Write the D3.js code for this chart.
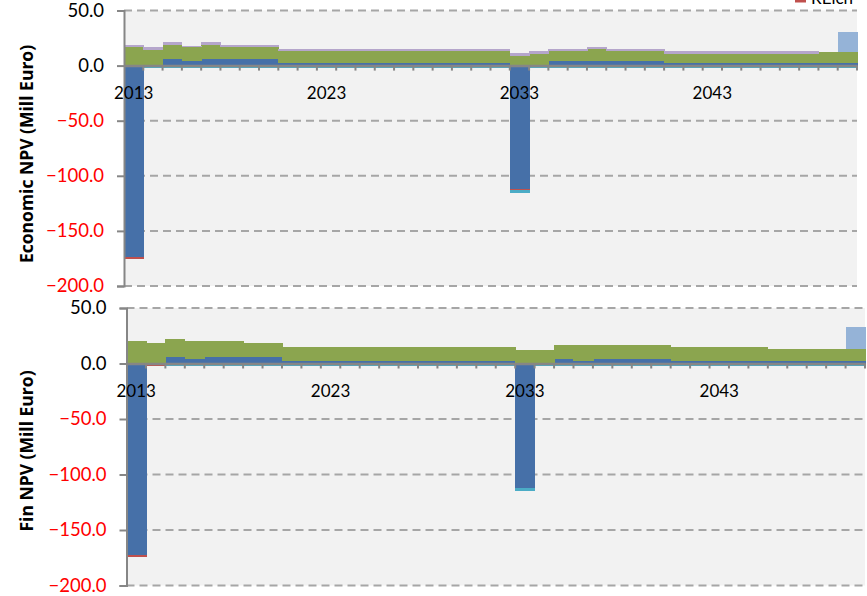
<!DOCTYPE html>
<html><head><meta charset="utf-8">
<script src="https://cdn.jsdelivr.net/npm/d3@7"></script>
<style>
html,body{margin:0;padding:0;background:#fff;}
svg{display:block;font-family:Lato,"Liberation Sans",sans-serif;}
</style></head>
<body><svg id="c" width="867" height="596"></svg>
<script>
// ---------- DATA ----------
const years = [2013,2014,2015,2016,2017,2018,2019,2020,2021,2022,2023,2024,2025,2026,2027,2028,2029,2030,2031,2032,2033,2034,2035,2036,2037,2038,2039,2040,2041,2042,2043,2044,2045,2046,2047,2048,2049,2050];
const tickYears = [2013,2023,2033,2043];
const yTicks = [50,0,-50,-100,-150,-200];

// Economic NPV panel
const econBlue   = [-174,0,6,4,6,6,6,6,2.5,2.5,2.5,2.5,2.5,2.5,2.5,2.5,2.5,2.5,2.5,2.5,-112,0,3.9,3.9,3.9,3.9,3.9,3.9,2.4,2.4,2.4,2.4,2.4,2.4,2.4,2.4,2.4,2.4];
const econRed    = [-1.2,0,0,0,0,0,0,0,0,0,0,0,0,0,0,0,0,0,0,0,-1.3,0,0,0,0,0,0,0,0,0,0,0,0,0,0,0,0,0];
const econTeal   = [0,-2.5,-2.5,-2.5,-2.5,-2.5,-2.5,-2.5,-2.5,-2.5,-2.5,-2.5,-2.5,-2.5,-2.5,-2.5,-2.5,-2.5,-2.5,-2.5,-2,-2.5,-2.5,-2.5,-2.5,-2.5,-2.5,-2.5,-2.5,-2.5,-2.5,-2.5,-2.5,-2.5,-2.5,-2.5,-2.5,-2.5];
const econGreen  = [16.6,14.5,13,12.6,13,11.3,11.3,11.3,10.5,10.5,10.5,10.5,10.5,10.5,10.5,10.5,10.5,10.5,10.5,10.5,9.1,10.9,9.1,9.1,11.3,9.1,9.1,9.1,8.5,8.5,8.5,8.5,8.5,8.5,8.5,8.5,9.7,9.7];
const econPurple = [2.5,2.1,2.2,1.6,2.2,1.7,1.7,1.7,2.2,2.2,2.2,2.2,2.2,2.2,2.2,2.2,2.2,2.2,2.2,2.2,2.4,2.1,2.2,2.2,1.8,2.2,2.2,2.2,2.1,2.1,2.1,2.1,2.1,2.1,2.1,2.1,0,0];
const econLight  = [0,0,0,0,0,0,0,0,0,0,0,0,0,0,0,0,0,0,0,0,0,0,0,0,0,0,0,0,0,0,0,0,0,0,0,0,0,18];

// Fin NPV panel
const finBlue   = [-172.7,0,6,3.9,6,6,6,6,2.1,2.1,2.1,2.1,2.1,2.1,2.1,2.1,2.1,2.1,2.1,2.1,-112.6,0,3.9,2.1,3.9,3.9,3.9,3.9,2.1,2.1,2.1,2.1,2.1,2.1,2.1,2.1,2.1,2.1];
const finRed    = [-1.5,-2.5,0,0,0,0,0,0,0,0,0,0,0,0,0,0,0,0,0,0,0,0,0,0,0,0,0,0,0,0,0,0,0,0,0,0,0,0];
const finTeal   = [0,0,-2.5,-2.5,-2.5,-2.5,-2.5,-2.5,-2.5,-2.5,-2.5,-2.5,-2.5,-2.5,-2.5,-2.5,-2.5,-2.5,-2.5,-2.5,-2,-2.5,-2.5,-2.5,-2.5,-2.5,-2.5,-2.5,-2.5,-2.5,-2.5,-2.5,-2.5,-2.5,-2.5,-2.5,-2.5,-2.5];
const finGreen  = [20.1,18.6,15.9,16.2,14.1,14.1,12.6,12.6,12.7,12.7,12.7,12.7,12.7,12.7,12.7,12.7,12.7,12.7,12.7,12.7,12.6,12.6,12.6,14.4,12.6,12.6,12.6,12.6,12.6,12.6,12.6,12.6,12.6,10.8,10.8,10.8,10.8,10.8];
const finPurple = [0,0,0,0,0,0,0,0,0,0,0,0,0,0,0,0,0,0,0,0,0,0,0,0,0,0,0,0,0,0,0,0,0,0,0,0,0,0];
const finLight  = [0,0,0,0,0,0,0,0,0,0,0,0,0,0,0,0,0,0,0,0,0,0,0,0,0,0,0,0,0,0,0,0,0,0,0,0,0,19.8];

const legendLabel = "RElch";
const titles = ["Economic NPV (Mill Euro)", "Fin NPV (Mill Euro)"];

// ---------- STYLE ----------
const keys = ["blue","red","teal","green","purple","light"];
const colors = {blue:"#4670a8", red:"#c0504d", teal:"#4bacc6", green:"#8ba54f", purple:"#b5a6cb", light:"#95b3d7"};

const svg = d3.select("#c");

function panel(cfg){
  const rows = years.map((y,i)=>({year:y, blue:cfg.blue[i], red:cfg.red[i], teal:cfg.teal[i], green:cfg.green[i], purple:cfg.purple[i], light:cfg.light[i]}));
  const x = d3.scaleBand().domain(years).range([cfg.x0, cfg.x1]).padding(0);
  const y = d3.scaleLinear().domain([-200,50]).range([cfg.yb, cfg.yt]);
  const g = svg.append("g");

  g.append("rect").attr("x",cfg.x0).attr("y",cfg.yt).attr("width",cfg.x1-cfg.x0).attr("height",cfg.yb-cfg.yt).attr("fill","#f2f2f2");

  // dashed gridlines
  g.selectAll("line.grid").data(yTicks.filter(t=>t!==0)).join("line")
    .attr("x1",cfg.x0).attr("x2",cfg.x1).attr("y1",d=>y(d)).attr("y2",d=>y(d))
    .attr("stroke","#a6a6a6").attr("stroke-width",2).attr("stroke-dasharray","8,5");

  const series = d3.stack().keys(keys).offset(d3.stackOffsetDiverging)(rows);
  g.selectAll("g.s").data(series).join("g").attr("fill",d=>colors[d.key]).attr("shape-rendering","crispEdges")
    .selectAll("rect").data(d=>d).join("rect")
    .attr("x",d=>x(d.data.year)).attr("width",x.bandwidth()+0.6)
    .attr("y",d=>y(Math.max(d[0],d[1]))).attr("height",d=>Math.abs(y(d[0])-y(d[1])));

  // y axis
  const ya = d3.axisLeft(y).tickValues(yTicks).tickSize(7).tickFormat(d3.format(".1f"));
  const yg = g.append("g").attr("transform",`translate(${cfg.x0},0)`).call(ya);
  yg.select(".domain").attr("stroke","#868686").attr("stroke-width",2);
  yg.selectAll(".tick line").attr("stroke","#868686").attr("stroke-width",2);
  yg.selectAll(".tick text").attr("x",-20).attr("font-size",18.5).attr("font-family","Lato")
    .attr("fill",d=>d<0?"#ff0000":"#000");

  // x axis at zero
  const xa = d3.axisBottom(x).tickValues(tickYears).tickSize(0);
  const xg = g.append("g").attr("transform",`translate(0,${y(0)})`).call(xa);
  xg.select(".domain").attr("stroke","#868686").attr("stroke-width",2.5);
  xg.selectAll(".tick text").attr("y",21).attr("font-size",17).attr("font-family","Lato").attr("fill","#000");
  // category boundary ticks
  g.selectAll("line.ct").data(years).join("line")
    .attr("x1",d=>x(d)+x.bandwidth()).attr("x2",d=>x(d)+x.bandwidth())
    .attr("y1",y(0)).attr("y2",y(0)+5).attr("stroke","#868686").attr("stroke-width",2);

  g.append("text").attr("transform",`translate(${cfg.tx},${cfg.ty}) rotate(-90)`)
    .attr("text-anchor","middle").attr("font-weight","bold").attr("font-size",17.5).attr("font-family","'Open Sans',sans-serif")
    .attr("fill","#000").text(cfg.title);
}

panel({blue:econBlue, red:econRed, teal:econTeal, green:econGreen, purple:econPurple, light:econLight,
  x0:124, x1:857, yt:10.5, yb:286, title:titles[0], tx:33, ty:154});
panel({blue:finBlue, red:finRed, teal:finTeal, green:finGreen, purple:finPurple, light:finLight,
  x0:126.5, x1:865, yt:308, yb:585.5, title:titles[1], tx:33, ty:451});

// partial legend (clipped at top edge, as in the reference)
svg.append("line").attr("x1",795).attr("x2",806).attr("y1",1).attr("y2",1).attr("stroke","#c0504d").attr("stroke-width",3);
svg.append("text").attr("x",811).attr("y",4).attr("font-size",17).attr("font-family","Lato").text(legendLabel);
</script></body></html>
